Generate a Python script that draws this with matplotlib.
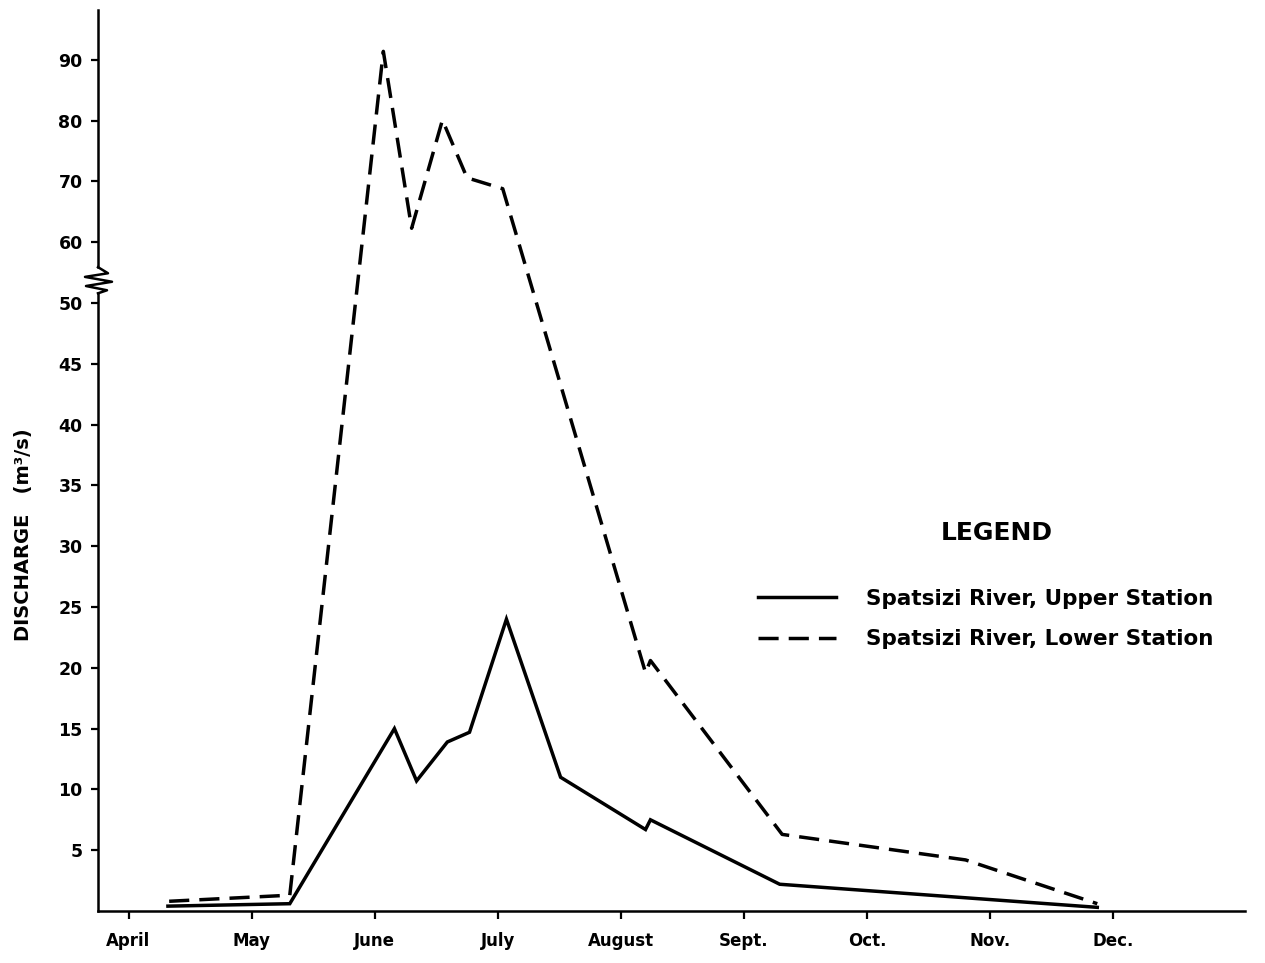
import numpy as np
import matplotlib
matplotlib.use("Agg")
import matplotlib.pyplot as plt
import matplotlib.transforms as mtransforms

# months on the x axis, 0 = start of April
month_labels = ["April", "May", "June", "July", "August", "Sept.", "Oct.", "Nov.", "Dec."]
month_pos = list(range(len(month_labels)))

# Spatsizi River, Upper Station (solid)
upper_x = [0.32, 1.31, 2.16, 2.34, 2.59, 2.77, 3.07, 3.51, 4.20, 4.24, 5.29, 7.87]
upper_y = [0.4, 0.6, 15.0, 10.7, 13.9, 14.7, 24.0, 11.0, 6.7, 7.5, 2.2, 0.3]

# Spatsizi River, Lower Station (dashed)
lower_x = [0.33, 1.31, 2.07, 2.30, 2.55, 2.75, 3.04, 4.20, 4.24, 5.31, 6.80, 7.87]
lower_y = [0.8, 1.3, 91.4, 62.3, 80.1, 70.6, 68.8, 19.6, 20.6, 6.3, 4.2, 0.6]

y_ticks = [5, 10, 15, 20, 25, 30, 35, 40, 45, 50, 60, 70, 80, 90]

BREAK = 50.0
K = 0.5  # compression above the break


def fwd(v):
    v = np.asarray(v, dtype=float)
    return np.where(v <= BREAK, v, BREAK + (v - BREAK) * K)


def inv(t):
    t = np.asarray(t, dtype=float)
    return np.where(t <= BREAK, t, BREAK + (t - BREAK) / K)


plt.rcParams['font.family'] = ['DejaVu Sans']
plt.rcParams['font.weight'] = 'bold'

fig = plt.figure(figsize=(12.65, 9.63), dpi=100)
ax = fig.add_axes([98 / 1265, 52 / 963, (1245 - 98) / 1265, (911 - 10) / 963])

ax.set_yscale('function', functions=(fwd, inv))
ax.set_xlim(-0.248, 9.07)
ax.set_ylim(0, 98.2)

l_up, = ax.plot(upper_x, upper_y, color='black', linewidth=2.5,
                solid_joinstyle='miter', label='Spatsizi River, Upper Station')
l_lo, = ax.plot(lower_x, lower_y, color='black', linewidth=2.5, dashes=(5.8, 2.9),
                label='Spatsizi River, Lower Station')

# axes / ticks
for s in ['top', 'right', 'left']:
    ax.spines[s].set_visible(False)
ax.spines['bottom'].set_linewidth(1.8)

ax.set_xticks(month_pos)
ax.set_xticklabels(month_labels, fontsize=12, fontweight='bold')
ax.set_yticks(y_ticks)
ax.set_yticklabels([str(t) for t in y_ticks], fontsize=12.5, fontweight='bold')
ax.yaxis.set_minor_locator(matplotlib.ticker.NullLocator())
ax.tick_params(axis='x', direction='out', length=6, width=1.6, pad=9)
ax.tick_params(axis='y', direction='out', length=5, width=1.6, pad=6)

# left axis drawn in two pieces with the zigzag break
blend = mtransforms.blended_transform_factory(ax.transAxes, ax.transData)
ax.plot([0, 0], [0, 51.6], color='black', lw=1.8, transform=blend, clip_on=False)
ax.plot([0, 0], [55.9, 98.2], color='black', lw=1.8, transform=blend, clip_on=False)
zig_dx = np.array([0, 10, -13, 14, -12, 9, 0]) / 1147
zig_y = [55.9, 54.9, 54.3, 53.5, 52.8, 52.1, 51.6]
ax.plot(zig_dx, zig_y, color='black', lw=1.8, transform=blend, clip_on=False)

ax.set_ylabel('DISCHARGE   (m³/s)', fontsize=14, fontweight='bold')
ax.yaxis.set_label_coords((33 - 98) / 1147, (911 - 535) / 901)

# legend
ax.text((997 - 98) / 1147, (911 - 533) / 901, 'LEGEND', transform=ax.transAxes,
        ha='center', va='center', fontsize=18, fontweight='bold')
ax.legend(handles=[l_up, l_lo], loc='center left', bbox_to_anchor=((758 - 98) / 1147, (911 - 619) / 901),
          frameon=False, fontsize=15.5, handlelength=3.63, handletextpad=1.4,
          labelspacing=0.95, borderpad=0, borderaxespad=0)

plt.savefig('out.png', dpi=100)
